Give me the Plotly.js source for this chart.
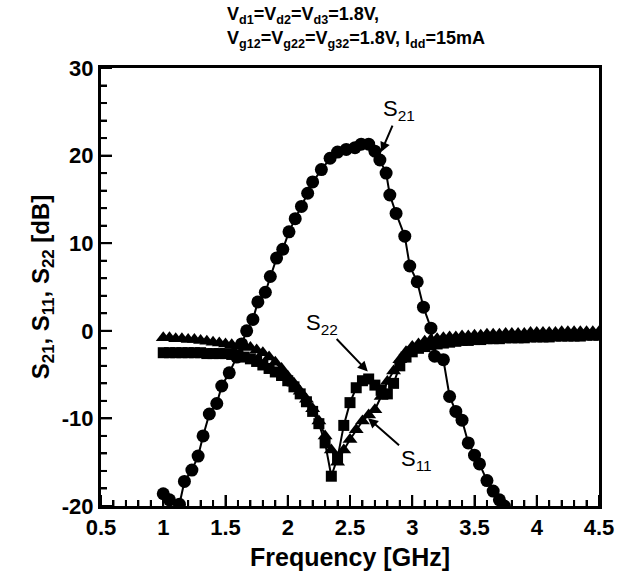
<!DOCTYPE html>
<html>
<head>
<meta charset="utf-8">
<script src="https://cdn.plot.ly/plotly-3.0.1.min.js"></script>
<style>html,body{margin:0;padding:0;background:#fff;}#chart{width:619px;height:579px;}</style>
</head>
<body>
<div id="chart"></div>
<script>
// S21 (circles)
const s21Freq = [1.00,1.05,1.13,1.17,1.23,1.28,1.32,1.37,1.43,1.47,1.53,1.59,1.63,1.67,1.72,1.76,1.82,1.86,1.91,1.96,2.01,2.06,2.11,2.16,2.20,2.27,2.34,2.40,2.47,2.54,2.59,2.65,2.70,2.74,2.79,2.82,2.87,2.94,2.98,3.04,3.09,3.15,3.18,3.25,3.30,3.35,3.40,3.45,3.50,3.54,3.60,3.65,3.70,3.74];
const s21 = [-18.6,-19.3,-19.8,-17.2,-15.9,-14.3,-12.0,-9.5,-8.3,-6.3,-4.8,-3.0,-1.5,0.0,1.3,3.3,4.4,6.2,8.3,9.3,11.3,12.8,14.2,15.7,17.0,18.4,19.7,20.4,20.7,20.9,21.3,21.3,20.5,19.5,18.0,15.5,13.4,10.8,7.4,5.6,2.7,0.3,-2.9,-3.3,-7.5,-9.2,-10.2,-12.8,-14.2,-15.2,-17.1,-18.3,-19.3,-20.0];

// S11 (triangles) and S22 (squares)
const freq = [1.00,1.05,1.10,1.15,1.20,1.25,1.30,1.35,1.40,1.45,1.50,1.55,1.60,1.65,1.70,1.75,1.80,1.85,1.90,1.95,2.00,2.05,2.10,2.15,2.20,2.25,2.30,2.35,2.40,2.45,2.50,2.55,2.60,2.65,2.70,2.75,2.80,2.85,2.90,2.95,3.00,3.05,3.10,3.15,3.20,3.25,3.30,3.35,3.40,3.45,3.50,3.55,3.60,3.65,3.70,3.75,3.80,3.85,3.90,3.95,4.00,4.05,4.10,4.15,4.20,4.25,4.30,4.35,4.40,4.45,4.50];
const s11 = [-0.8,-0.8,-0.9,-0.9,-1.0,-1.0,-1.1,-1.2,-1.3,-1.4,-1.5,-1.6,-1.7,-1.8,-1.9,-2.2,-2.5,-3.0,-3.6,-4.3,-5.2,-6.0,-6.9,-7.8,-8.9,-10.3,-12.0,-13.6,-15.0,-13.6,-12.4,-11.3,-10.3,-9.6,-9.0,-7.5,-5.8,-4.6,-3.3,-2.4,-1.8,-1.5,-1.2,-1.0,-0.9,-0.8,-0.7,-0.7,-0.6,-0.6,-0.5,-0.5,-0.4,-0.4,-0.4,-0.3,-0.3,-0.3,-0.3,-0.2,-0.2,-0.2,-0.2,-0.2,-0.1,-0.1,-0.1,-0.1,-0.1,-0.1,-0.1];
const s22 = [-2.5,-2.5,-2.5,-2.5,-2.5,-2.5,-2.5,-2.6,-2.6,-2.6,-2.6,-2.7,-2.8,-3.0,-3.2,-3.5,-3.9,-4.3,-4.7,-5.1,-5.7,-6.4,-7.2,-8.1,-9.2,-10.6,-12.8,-16.6,-14.5,-10.8,-8.2,-6.5,-5.7,-5.5,-6.2,-6.8,-7.2,-6.0,-4.0,-3.0,-2.4,-2.0,-1.8,-1.6,-1.5,-1.4,-1.3,-1.2,-1.1,-1.1,-1.0,-1.0,-0.9,-0.9,-0.9,-0.8,-0.8,-0.8,-0.8,-0.7,-0.7,-0.7,-0.7,-0.6,-0.6,-0.6,-0.6,-0.6,-0.5,-0.5,-0.5];

const xTickVals = [0.5,1,1.5,2,2.5,3,3.5,4,4.5];
const xTickText = ['0.5','1','1.5','2','2.5','3','3.5','4','4.5'];
const yTickVals = [-20,-10,0,10,20,30];
const yTickText = ['-20','-10','0','10','20','30'];
const X_MIN = 0.5, X_MAX = 4.5, Y_MIN = -20, Y_MAX = 30;
const X_MINOR_STEP = 0.1, Y_MINOR_STEP = 2;

const FONT = 'Liberation Sans, Arial, Helvetica, sans-serif';
const W = 619, H = 579, M = {l: 101, r: 20, t: 68, b: 73};
const plotW = W - M.l - M.r, plotH = H - M.t - M.b;
const xPerPx = (X_MAX - X_MIN) / plotW;
const yPerPx = (Y_MAX - Y_MIN) / plotH;

// Inside tick marks (bottom and left), built from the tick arrays as one line trace
const tickX = [], tickY = [];
for (let i = 0; X_MIN + i * X_MINOR_STEP <= X_MAX + 1e-9; i++) {
  const v = +(X_MIN + i * X_MINOR_STEP).toFixed(3);
  const major = xTickVals.some(t => Math.abs(t - v) < 1e-6);
  tickX.push(v, v, null);
  tickY.push(Y_MIN, Y_MIN + (major ? 11 : 6) * yPerPx, null);
}
for (let i = 0; Y_MIN + i * Y_MINOR_STEP <= Y_MAX + 1e-9; i++) {
  const v = Y_MIN + i * Y_MINOR_STEP;
  const major = yTickVals.some(t => Math.abs(t - v) < 1e-6);
  tickX.push(X_MIN, X_MIN + (major ? 11 : 6) * xPerPx, null);
  tickY.push(v, v, null);
}

const traces = [
  {x: tickX, y: tickY, mode: 'lines', connectgaps: false, hoverinfo: 'skip',
   line: {color: '#000', width: 2}},
  {x: freq, y: s22, mode: 'lines+markers', name: 'S22',
   line: {color: '#000', width: 2}, marker: {symbol: 'square', size: 11, color: '#000'}},
  {x: freq, y: s11, mode: 'lines+markers', name: 'S11',
   line: {color: '#000', width: 2}, marker: {symbol: 'triangle-up', size: 13, color: '#000'}},
  {x: s21Freq, y: s21, mode: 'lines+markers', name: 'S21',
   line: {color: '#000', width: 2}, marker: {symbol: 'circle', size: 13, color: '#000'}}
];

const layout = {
  width: W, height: H,
  margin: M,
  paper_bgcolor: '#fff', plot_bgcolor: '#fff',
  showlegend: false,
  font: {family: FONT, color: '#000'},
  xaxis: {
    range: [X_MIN, X_MAX], tickmode: 'array', tickvals: xTickVals, ticktext: xTickText,
    ticks: 'inside', ticklen: 11, tickwidth: 2, tickcolor: '#000',
    minor: {dtick: X_MINOR_STEP, tick0: X_MIN, ticks: 'inside', ticklen: 6, tickwidth: 2, tickcolor: '#000'},
    showline: true, linewidth: 3, linecolor: '#000', mirror: true,
    showgrid: false, zeroline: false,
    tickfont: {family: FONT, size: 22, color: '#000', weight: 'bold'},
    title: {text: '<b>Frequency [GHz]</b>', font: {family: FONT, size: 25, color: '#000'}, standoff: 10}
  },
  yaxis: {
    range: [Y_MIN, Y_MAX], tickmode: 'array', tickvals: yTickVals, ticktext: yTickText,
    ticks: 'inside', ticklen: 11, tickwidth: 2, tickcolor: '#000',
    minor: {dtick: Y_MINOR_STEP, tick0: Y_MIN, ticks: 'inside', ticklen: 6, tickwidth: 2, tickcolor: '#000'},
    showline: true, linewidth: 3, linecolor: '#000', mirror: true,
    showgrid: false, zeroline: false,
    tickfont: {family: FONT, size: 22, color: '#000', weight: 'bold'},
    title: {text: '<b>S<sub>21</sub>, S<sub>11</sub>, S<sub>22</sub> [dB]</b>', font: {family: FONT, size: 24, color: '#000'}, standoff: 6}
  },
  annotations: [
    {xref: 'paper', yref: 'paper', x: 0.249, y: 1.121, xanchor: 'left', yanchor: 'middle', showarrow: false,
     text: '<b>V<sub>d1</sub>=V<sub>d2</sub>=V<sub>d3</sub>=1.8V,</b>', font: {family: FONT, size: 18, color: '#000'}},
    {xref: 'paper', yref: 'paper', x: 0.249, y: 1.066, xanchor: 'left', yanchor: 'middle', showarrow: false,
     text: '<b>V<sub>g12</sub>=V<sub>g22</sub>=V<sub>g32</sub>=1.8V, I<sub>dd</sub>=15mA</b>', font: {family: FONT, size: 18, color: '#000'}},
    {x: 2.75, y: 20.4, ax: 18, ay: -42, text: 'S<sub>21</sub>', showarrow: true, arrowhead: 2, arrowsize: 1, arrowwidth: 2, arrowcolor: '#000',
     font: {family: FONT, size: 22, color: '#000'}},
    {x: 2.643, y: -4.65, ax: -46, ay: -48, text: 'S<sub>22</sub>', showarrow: true, arrowhead: 2, arrowsize: 1, arrowwidth: 2, arrowcolor: '#000',
     font: {family: FONT, size: 22, color: '#000'}},
    {x: 2.645, y: -9.97, ax: 48, ay: 42, text: 'S<sub>11</sub>', showarrow: true, arrowhead: 2, arrowsize: 1, arrowwidth: 2, arrowcolor: '#000',
     font: {family: FONT, size: 22, color: '#000'}}
  ]
};

Plotly.newPlot('chart', traces, layout, {displayModeBar: false, staticPlot: true});
</script>
</body>
</html>
